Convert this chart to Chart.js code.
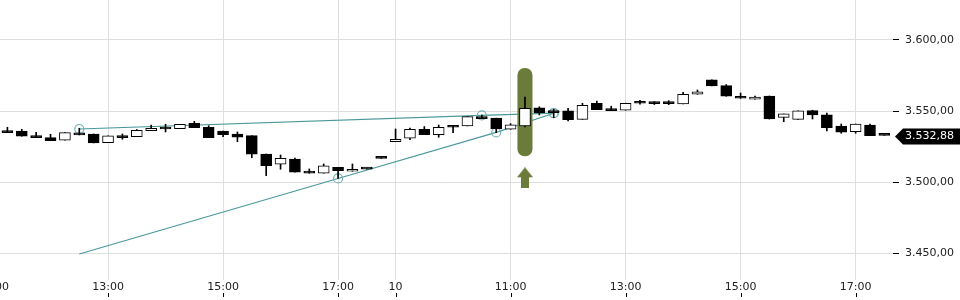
<!DOCTYPE html>
<html>
<head>
<meta charset="utf-8">
<script src="https://cdn.jsdelivr.net/npm/chart.js@4.4.1/dist/chart.umd.min.js"></script>
<style>
html, body { margin: 0; padding: 0; background: #fff; }
</style>
</head>
<body>
<canvas id="kurs" width="960" height="300"></canvas>
<script>
// 15-Minuten-Kerzen, zwei Handelstage
const times = [
  '11:15','11:30','11:45','12:00','12:15','12:30','12:45','13:00','13:15','13:30','13:45','14:00',
  '14:15','14:30','14:45','15:00','15:15','15:30','15:45','16:00','16:15','16:30','16:45','17:00',
  '17:15','17:30','17:45',
  '09:00','09:15','09:30','09:45','10:00','10:15','10:30','10:45','11:00','11:15','11:30','11:45',
  '12:00','12:15','12:30','12:45','13:00','13:15','13:30','13:45','14:00','14:15','14:30','14:45',
  '15:00','15:15','15:30','15:45','16:00','16:15','16:30','16:45','17:00','17:15','17:30'
];
const openP = [
  3536.0, 3536.0, 3532.7, 3531.3, 3529.5, 3534.6, 3533.9, 3527.8, 3532.7, 3532.0, 3536.2, 3537.8,
  3537.6, 3541.4, 3538.6, 3536.0, 3533.9, 3532.7, 3519.8, 3512.6, 3516.3, 3507.4, 3506.3, 3510.5,
  3507.7, 3509.4, 3516.9,
  3528.5, 3530.9, 3537.2, 3533.4, 3539.7, 3539.5, 3546.1, 3545.0, 3537.2, 3539.5, 3552.2, 3550.1,
  3550.1, 3544.2, 3555.5, 3551.5, 3550.6, 3556.6, 3556.4, 3555.6, 3555.0, 3561.8, 3571.9, 3567.9,
  3559.9, 3558.3, 3560.6, 3545.6, 3544.2, 3550.3, 3547.3, 3539.5, 3535.5, 3540.2, 3533.0
];
const highP = [
  3538.6, 3537.2, 3535.1, 3533.7, 3534.8, 3537.9, 3533.9, 3532.5, 3533.9, 3537.0, 3540.2, 3540.7,
  3540.7, 3542.8, 3539.7, 3536.0, 3535.3, 3532.7, 3519.8, 3519.1, 3517.0, 3509.3, 3512.8, 3510.5,
  3512.8, 3509.4, 3516.9,
  3537.4, 3538.0, 3539.1, 3540.2, 3539.7, 3546.1, 3547.2, 3545.0, 3541.1, 3559.9, 3553.0, 3551.3,
  3552.0, 3555.5, 3557.1, 3553.4, 3555.5, 3557.6, 3556.6, 3557.3, 3563.1, 3564.8, 3571.9, 3568.6,
  3562.7, 3560.6, 3560.6, 3548.0, 3550.1, 3550.6, 3548.5, 3540.9, 3540.9, 3540.9, 3533.0
];
const lowP = [
  3534.8, 3532.3, 3531.3, 3529.2, 3529.5, 3533.2, 3527.6, 3527.8, 3530.2, 3532.0, 3536.2, 3535.3,
  3537.6, 3538.3, 3531.3, 3532.0, 3528.5, 3517.2, 3504.6, 3509.1, 3507.0, 3506.3, 3506.3, 3502.7,
  3507.7, 3509.2, 3516.7,
  3528.5, 3529.9, 3533.4, 3531.6, 3534.8, 3539.5, 3544.7, 3534.8, 3537.2, 3538.8, 3547.3, 3545.4,
  3543.0, 3544.2, 3551.0, 3550.3, 3550.6, 3554.8, 3554.6, 3554.5, 3555.0, 3561.8, 3567.7, 3560.4,
  3559.0, 3558.3, 3544.4, 3542.5, 3544.2, 3544.4, 3536.0, 3534.4, 3534.4, 3532.7, 3532.88
];
const closeP = [
  3534.8, 3532.3, 3531.3, 3529.2, 3534.8, 3533.2, 3527.6, 3532.5, 3531.3, 3536.5, 3537.9, 3537.4,
  3540.7, 3538.3, 3531.3, 3533.4, 3531.6, 3519.6, 3511.6, 3516.8, 3507.0, 3506.3, 3511.4, 3508.1,
  3509.1, 3509.2, 3516.7,
  3530.2, 3537.2, 3533.4, 3538.6, 3538.6, 3546.1, 3544.7, 3537.4, 3540.4, 3552.0, 3548.9, 3548.9,
  3544.0, 3554.1, 3551.0, 3550.3, 3555.5, 3555.5, 3555.2, 3555.2, 3561.8, 3563.6, 3567.7, 3560.4,
  3559.0, 3559.9, 3544.4, 3548.0, 3550.1, 3547.3, 3538.3, 3535.1, 3540.9, 3532.7, 3532.88
];

const xTickPos = [-1, 7, 15, 23, 27, 35, 43, 51, 59];
const xTickLabels = ['11:00', '13:00', '15:00', '17:00', '10', '11:00', '13:00', '15:00', '17:00'];
const yTickValues = [3450, 3500, 3550, 3600];
const yTickLabels = ['3.450,00', '3.500,00', '3.550,00', '3.600,00'];

// Trendlinien (Kerzen-Index, Kurs)
const upperIdx = [5, 33, 38];
const upperVal = [3537.4, 3546.9, 3548.5];
const lowerIdx = [5, 23, 34, 38];
const lowerVal = [3449.5, 3502.6, 3535.0, 3548.5];

// Signal-Markierung
const markerIdx = 36;
const markerRange = [3518.4, 3580.1];
const arrowLevel = 3503.1;

const lastPrice = 3532.88;
const lastPriceLabel = '3.532,88';

const olive = '#6b7c3a';
const teal = '#4a989c';

Chart.defaults.font.family = 'DejaVu Sans';
Chart.defaults.font.size = 11;
Chart.defaults.color = '#222';

// Pfeil als Punktsymbol
const arrow = document.createElement('canvas');
arrow.width = 16; arrow.height = 21;
const a = arrow.getContext('2d');
a.fillStyle = olive;
a.beginPath();
a.moveTo(8, 0); a.lineTo(16, 10); a.lineTo(12, 10); a.lineTo(12, 21);
a.lineTo(4, 21); a.lineTo(4, 10); a.lineTo(0, 10);
a.closePath(); a.fill();

const wicks = times.map((t, i) => ({ x: i, y: [lowP[i], highP[i]] }));
const bodies = times.map((t, i) => ({ x: i, y: [openP[i], closeP[i]] }));
const bodyColors = times.map((t, i) => closeP[i] >= openP[i] ? '#fff' : '#000');

const extras = {
  id: 'extras',
  afterDraw(chart) {
    const { ctx, chartArea, scales } = chart;
    ctx.save();
    // Tick-Striche unter den Zeitlabels
    ctx.strokeStyle = '#000';
    ctx.lineWidth = 1;
    xTickPos.forEach(v => {
      const px = Math.round(scales.x.getPixelForValue(v)) + 0.5;
      ctx.beginPath();
      ctx.moveTo(px, chartArea.bottom + 13);
      ctx.lineTo(px, chartArea.bottom + 17);
      ctx.stroke();
    });
    // Letzter Kurs
    const y = scales.y.getPixelForValue(lastPrice) + 1;
    const l = chartArea.right + 2;
    ctx.fillStyle = '#000';
    ctx.beginPath();
    ctx.moveTo(l, y);
    ctx.lineTo(l + 8, y - 8);
    ctx.lineTo(chart.width, y - 8);
    ctx.lineTo(chart.width, y + 8);
    ctx.lineTo(l + 8, y + 8);
    ctx.closePath();
    ctx.fill();
    ctx.fillStyle = '#fff';
    ctx.textBaseline = 'middle';
    ctx.textAlign = 'left';
    ctx.font = '11px "DejaVu Sans"';
    ctx.fillText(lastPriceLabel, l + 10, y);
    ctx.restore();
  }
};

new Chart(document.getElementById('kurs'), {
  type: 'bar',
  data: {
    datasets: [
      {
        data: bodies,
        backgroundColor: bodyColors,
        borderColor: '#000',
        borderWidth: 1,
        borderSkipped: false,
        grouped: false,
        maxBarThickness: 11,
        barPercentage: 1,
        categoryPercentage: 1,
        minBarLength: 2,
        order: 0
      },
      {
        data: wicks,
        backgroundColor: '#000',
        grouped: false,
        maxBarThickness: 1,
        barPercentage: 1,
        categoryPercentage: 1,
        order: 1
      },
      {
        data: [{ x: markerIdx, y: markerRange }],
        backgroundColor: olive,
        borderRadius: 8,
        borderSkipped: false,
        grouped: false,
        maxBarThickness: 15,
        barPercentage: 1,
        categoryPercentage: 1,
        order: 2
      },
      {
        type: 'line',
        data: [{ x: markerIdx, y: arrowLevel }],
        showLine: false,
        pointStyle: arrow,
        order: 2
      },
      {
        type: 'line',
        data: upperIdx.map((x, i) => ({ x: x, y: upperVal[i] })),
        borderColor: teal,
        borderWidth: 1.2,
        pointRadius: 4.5,
        pointBorderWidth: 1.2,
        pointBorderColor: '#74b2b5',
        pointBackgroundColor: 'rgba(0,0,0,0)',
        order: 3
      },
      {
        type: 'line',
        data: lowerIdx.map((x, i) => ({ x: x, y: lowerVal[i] })),
        borderColor: teal,
        borderWidth: 1.2,
        pointRadius: [0, 4.5, 4.5, 4.5],
        pointBorderWidth: 1.2,
        pointBorderColor: '#74b2b5',
        pointBackgroundColor: 'rgba(0,0,0,0)',
        order: 3
      }
    ]
  },
  options: {
    responsive: false,
    animation: false,
    events: [],
    layout: { padding: 0, autoPadding: false },
    plugins: { legend: { display: false }, tooltip: { enabled: false } },
    scales: {
      x: {
        type: 'linear',
        min: -0.515,
        max: 61.6,
        offset: false,
        grid: { color: '#dedede', offset: false, drawTicks: false },
        border: { display: false },
        ticks: {
          autoSkip: false,
          maxRotation: 0,
          padding: 1,
          callback: (value, index) => xTickLabels[index]
        },
        afterBuildTicks: scale => { scale.ticks = xTickPos.map(v => ({ value: v })); },
        afterFit: scale => { scale.height = 20; scale.paddingLeft = 0; scale.paddingRight = 0; }
      },
      y: {
        position: 'right',
        min: 3431.2,
        max: 3628.1,
        grid: { color: '#dedede', tickColor: '#000', tickLength: 6 },
        border: { display: false },
        ticks: {
          padding: 6,
          callback: (value, index) => yTickLabels[index]
        },
        afterBuildTicks: scale => { scale.ticks = yTickValues.map(v => ({ value: v })); },
        afterFit: scale => { scale.width = 67; scale.paddingTop = 0; scale.paddingBottom = 0; }
      }
    }
  },
  plugins: [extras]
});
</script>
</body>
</html>
